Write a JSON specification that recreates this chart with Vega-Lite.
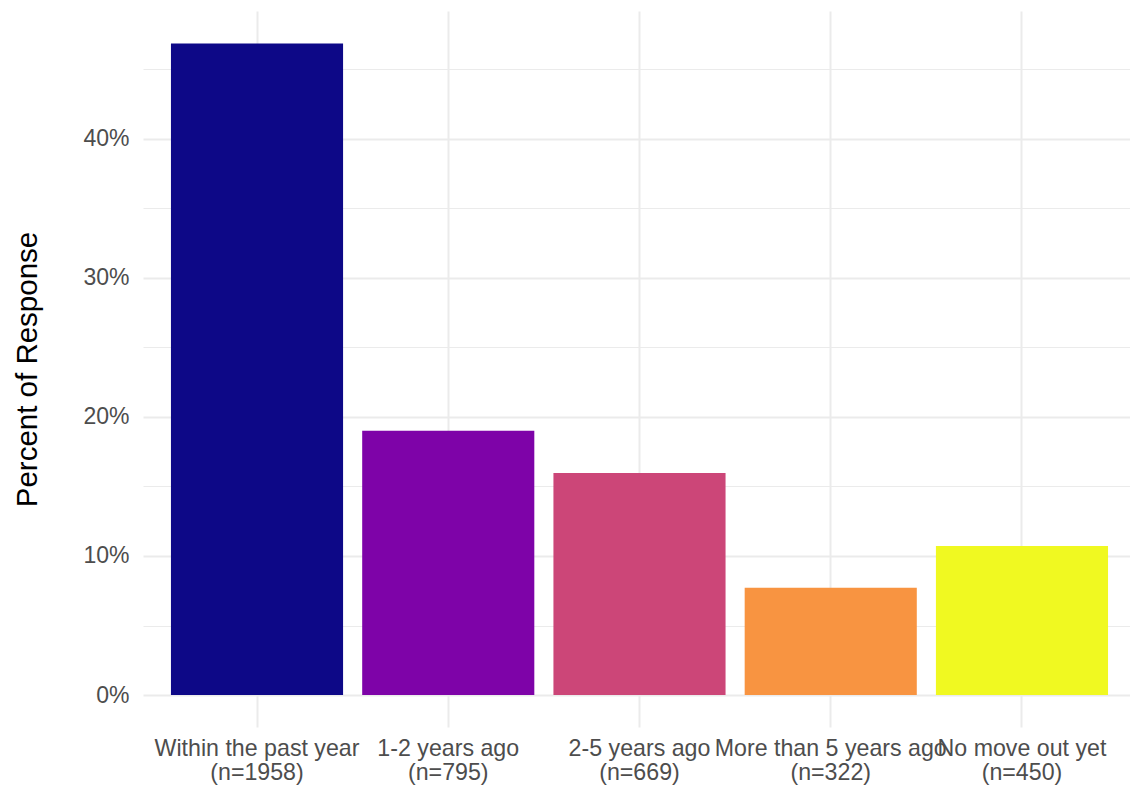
{
  "$schema": "https://vega.github.io/schema/vega-lite/v6.json",
  "autosize": {"type": "none"},
  "padding": {"left": 143, "top": 11, "right": 0, "bottom": 60},
  "width": 987,
  "height": 716,
  "background": "white",
  "config": {
    "view": {"stroke": null},
    "font": "Liberation Sans"
  },
  "data": {
    "values": [
      {"when": "Within the past year|(n=1958)", "pct": 0.4687, "n": 1958},
      {"when": "1-2 years ago|(n=795)", "pct": 0.1901, "n": 795},
      {"when": "2-5 years ago|(n=669)", "pct": 0.1597, "n": 669},
      {"when": "More than 5 years ago|(n=322)", "pct": 0.0772, "n": 322},
      {"when": "No move out yet|(n=450)", "pct": 0.1072, "n": 450}
    ]
  },
  "mark": {"type": "bar"},
  "encoding": {
    "x": {
      "field": "when",
      "type": "nominal",
      "sort": null,
      "scale": {"paddingInner": 0.1, "paddingOuter": 0.1305, "align": 0.56},
      "axis": {
        "title": null,
        "labelAngle": 0,
        "labelExpr": "split(datum.label, '|')",
        "labelFont": "Liberation Sans",
        "labelFontSize": 23.2,
        "labelColor": "#4D4D4D",
        "labelLineHeight": 24,
        "labelPadding": 10,
        "labelOverlap": false,
        "labelLimit": 500,
        "labelAlign": "center",
        "domain": false,
        "ticks": false,
        "grid": true,
        "bandPosition": 0.5,
        "gridColor": "#EBEBEB",
        "gridWidth": 2
      }
    },
    "y": {
      "field": "pct",
      "type": "quantitative",
      "scale": {"domain": [-0.023, 0.492], "nice": false, "zero": false},
      "axis": {
        "title": "Percent of Response",
        "titleFont": "Liberation Sans",
        "titleFontSize": 29.5,
        "titleFontWeight": "normal",
        "titleColor": "#000000",
        "titlePadding": 40,
        "values": [0, 0.05, 0.1, 0.15, 0.2, 0.25, 0.3, 0.35, 0.4, 0.45],
        "labelExpr": "round(datum.value*100) % 10 == 0 ? format(datum.value, '.0%') : ''",
        "labelFont": "Liberation Sans",
        "labelFontSize": 23,
        "labelColor": "#4D4D4D",
        "labelPadding": 14,
        "domain": false,
        "ticks": false,
        "grid": true,
        "gridColor": "#EBEBEB",
        "gridWidth": {"condition": {"test": "round(datum.value*100) % 10 != 0", "value": 1}, "value": 2}
      }
    },
    "color": {
      "field": "when",
      "type": "nominal",
      "sort": null,
      "scale": {"range": ["#0D0887", "#7E03A8", "#CC4678", "#F89441", "#F0F921"]},
      "legend": null
    }
  }
}
